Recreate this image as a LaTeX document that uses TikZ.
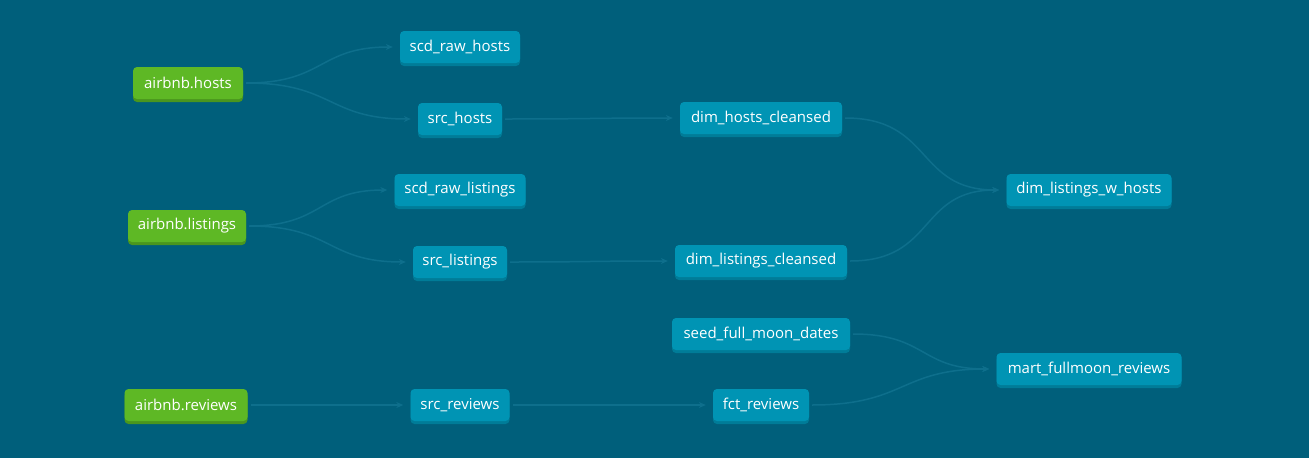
\documentclass[tikz,border=0pt]{standalone}
\usepackage{fontspec}
\setmainfont{Open Sans}
\usetikzlibrary{calc,arrows.meta,shadows}
\definecolor{bg}{RGB}{0,95,123}
\definecolor{nodeblue}{RGB}{0,148,180}
\definecolor{nodeblueshadow}{RGB}{0,124,152}
\definecolor{nodegreen}{RGB}{94,184,37}
\definecolor{nodegreenshadow}{RGB}{74,150,30}
\definecolor{edgecol}{RGB}{14,111,140}
\tikzset{
  base/.style={rounded corners=4pt, minimum height=32pt, inner sep=0pt, text=white,
    font=\fontsize{15}{17}\selectfont},
  model/.style={base, fill=nodeblue, drop shadow={shadow xshift=0pt, shadow yshift=-3pt, fill=nodeblueshadow, opacity=1}},
  source/.style={base, fill=nodegreen, drop shadow={shadow xshift=0pt, shadow yshift=-3pt, fill=nodegreenshadow, opacity=1}},
  edge/.style={draw=edgecol, line width=1.5pt, -{Stealth[length=7pt,width=6pt]}, shorten >=7pt, shorten <=3pt}
}
\newcommand{\link}[2]{\draw[edge] (#1.east) to[out=0,in=180,looseness=1.3] (#2.west);}
\begin{document}
\begin{tikzpicture}[x=1pt,y=-1pt]
\fill[bg] (0,0) rectangle (1309,458);
\useasboundingbox (0,0) rectangle (1309,458);
% sources
\node[source, minimum width=110pt] (ah) at (188,83) {airbnb.hosts};
\node[source, minimum width=118pt] (al) at (187,226) {airbnb.listings};
\node[source, minimum width=123pt] (ar) at (186,405) {airbnb.reviews};
% models
\node[model, minimum width=120pt] (srh) at (460,47) {scd\_raw\_hosts};
\node[model, minimum width=84pt] (sh) at (460,119) {src\_hosts};
\node[model, minimum width=162pt] (dhc) at (761,118) {dim\_hosts\_cleansed};
\node[model, minimum width=131pt] (srl) at (460,190) {scd\_raw\_listings};
\node[model, minimum width=94pt] (sl) at (460,262) {src\_listings};
\node[model, minimum width=172pt] (dlc) at (761,261) {dim\_listings\_cleansed};
\node[model, minimum width=165pt] (dlwh) at (1089,190) {dim\_listings\_w\_hosts};
\node[model, minimum width=178pt] (sfmd) at (761,334) {seed\_full\_moon\_dates};
\node[model, minimum width=185pt] (mfr) at (1089,369) {mart\_fullmoon\_reviews};
\node[model, minimum width=99pt] (sr) at (460,405) {src\_reviews};
\node[model, minimum width=96pt] (fr) at (761,405) {fct\_reviews};
% edges
\link{ah}{srh}
\link{ah}{sh}
\link{sh}{dhc}
\link{al}{srl}
\link{al}{sl}
\link{sl}{dlc}
\link{dhc}{dlwh}
\link{dlc}{dlwh}
\link{ar}{sr}
\link{sr}{fr}
\link{sfmd}{mfr}
\link{fr}{mfr}
\end{tikzpicture}
\end{document}
